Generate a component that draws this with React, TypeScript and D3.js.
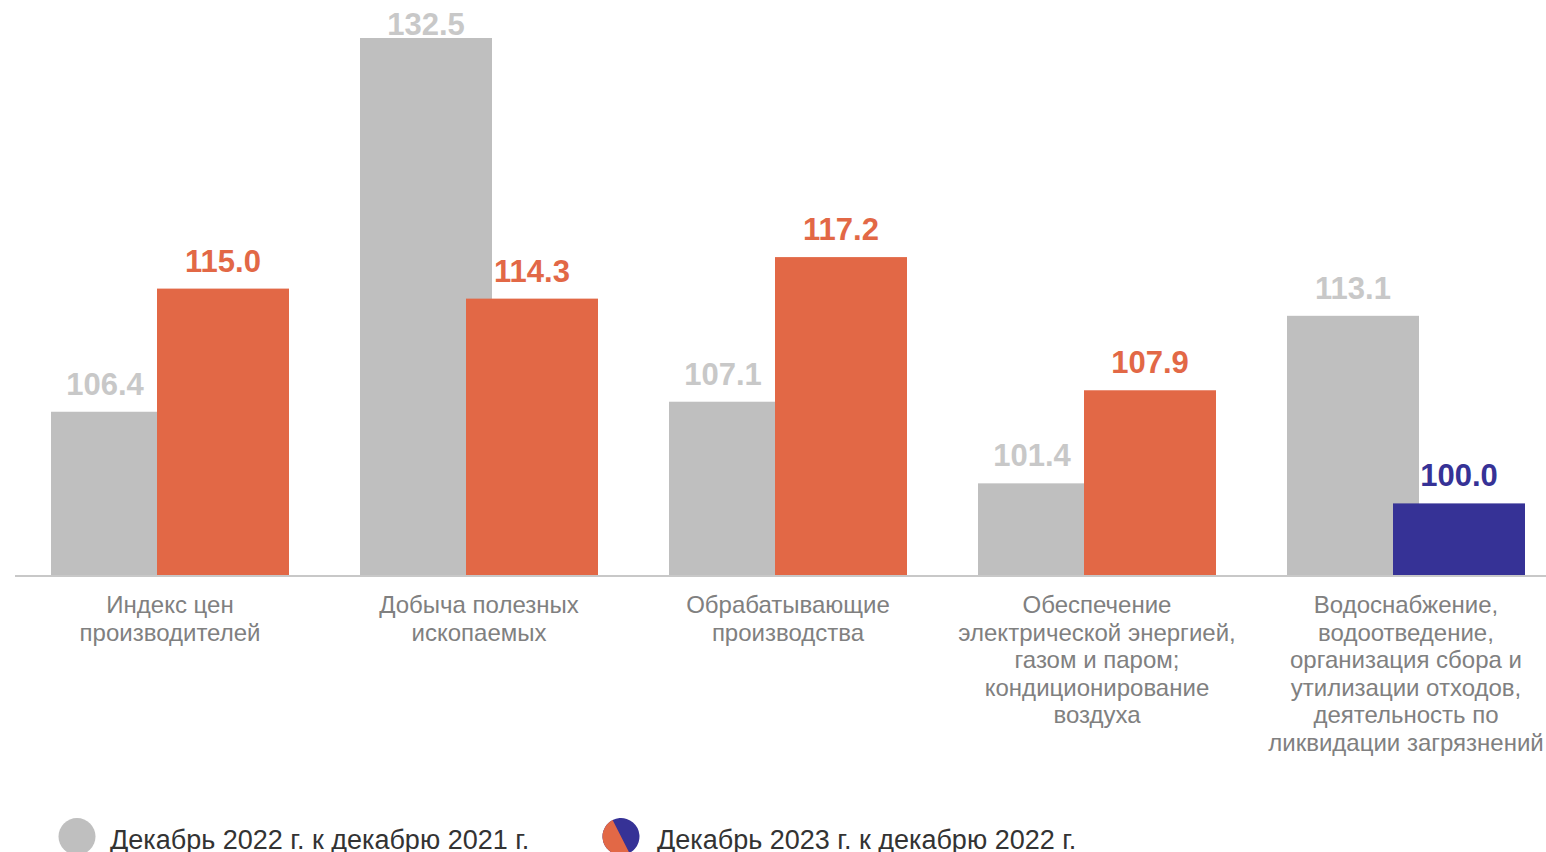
import React from "react";
import * as d3 from "d3";

const categories: string[][] = [
  ["Индекс цен", "производителей"],
  ["Добыча полезных", "ископаемых"],
  ["Обрабатывающие", "производства"],
  ["Обеспечение", "электрической энергией,", "газом и паром;", "кондиционирование", "воздуха"],
  ["Водоснабжение,", "водоотведение,", "организация сбора и", "утилизации отходов,", "деятельность по", "ликвидации загрязнений"],
];
const categoryKeys = ["ppi", "mining", "manufacturing", "energy", "water"];
const dec2022: number[] = [106.4, 132.5, 107.1, 101.4, 113.1];
const dec2023: number[] = [115.0, 114.3, 117.2, 107.9, 100.0];
const legendLabels = ["Декабрь 2022 г. к декабрю 2021 г.", "Декабрь 2023 г. к декабрю 2022 г."];

const W = 1546;
const H = 852;
const FONT = "'Liberation Sans', Arial, sans-serif";
const GRAY = "#bfbfbf";
const GRAY_LABEL = "#c8c8c8";
const ORANGE = "#e26846";
const BLUE = "#363296";

export default function App() {
  const baseY = 575;
  const y = d3.scaleLinear().domain([95, 132.5]).range([baseY, 38]);
  const x = d3
    .scaleBand<string>()
    .domain(categoryKeys)
    .range([15.5, 1560.5])
    .paddingInner(0.2298)
    .paddingOuter(0.1149);
  const bw = x.bandwidth();
  const barW = (bw * 132) / 238;
  const offset = bw - barW;
  const colorFor = (v: number) => (v > 100 ? ORANGE : BLUE);
  const labelY = (v: number) => Math.max(y(v) - 17, 35);

  return (
    <svg
      width={W}
      height={H}
      style={{ position: "absolute", left: 0, top: 0, background: "#fff" }}
      fontFamily={FONT}
    >
      {categoryKeys.map((k, i) => {
        const x0 = x(k)!;
        const g = dec2022[i];
        const o = dec2023[i];
        const grayLabelX = o > g ? x0 + offset / 2 + 1 : x0 + barW / 2;
        return (
          <g key={k}>
            <rect x={x0} y={y(g)} width={barW} height={baseY - y(g)} fill={GRAY} />
            <rect x={x0 + offset} y={y(o)} width={barW} height={baseY - y(o)} fill={colorFor(o)} />
            <text
              x={grayLabelX}
              y={labelY(g)}
              textAnchor="middle"
              fontSize={31}
              fontWeight="bold"
              fill={GRAY_LABEL}
            >
              {g.toFixed(1)}
            </text>
            <text
              x={x0 + offset + barW / 2}
              y={labelY(o)}
              textAnchor="middle"
              fontSize={31}
              fontWeight="bold"
              fill={colorFor(o)}
            >
              {o.toFixed(1)}
            </text>
            <text textAnchor="middle" fontSize={24} fill="#808080">
              {categories[i].map((line, j) => (
                <tspan key={j} x={x0 + bw / 2} y={613 + j * 27.6}>
                  {line}
                </tspan>
              ))}
            </text>
          </g>
        );
      })}
      <line x1={15} x2={W} y1={baseY + 1} y2={baseY + 1} stroke="#c8c8c8" strokeWidth={2} />

      {/* Legend */}
      <circle cx={77} cy={836.5} r={18.5} fill={GRAY} />
      <text x={110} y={849} fontSize={27} fill="#333333">
        {legendLabels[0]}
      </text>
      <g transform="translate(621,836.5) rotate(-27)">
        <circle r={18.5} fill={BLUE} />
        <path d="M0,-18.5 A18.5,18.5 0 0,0 0,18.5 Z" fill={ORANGE} />
      </g>
      <text x={657} y={849} fontSize={27} fill="#333333">
        {legendLabels[1]}
      </text>
    </svg>
  );
}
